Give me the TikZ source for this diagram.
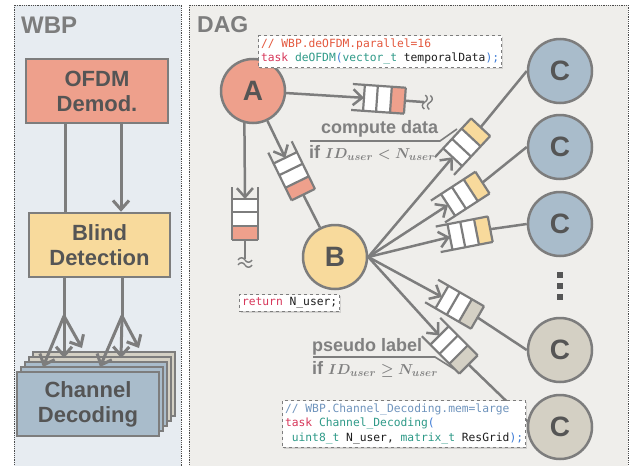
\documentclass[tikz,border=0pt]{standalone}
\usepackage{fontspec}
\setmainfont{Liberation Sans}
\newfontfamily\codefont{DejaVu Sans Mono}
\usetikzlibrary{arrows.meta,shadows,calc}
\definecolor{wbpbg}{HTML}{E7ECF1}
\definecolor{dagbg}{HTML}{EFEEEB}
\definecolor{salm}{HTML}{EEA08C}
\definecolor{yel}{HTML}{F8DA9C}
\definecolor{blu}{HTML}{A9BCCB}
\definecolor{bei}{HTML}{D4D0C4}
\definecolor{lg}{HTML}{7D7D7D}
\definecolor{dk}{HTML}{555555}
\definecolor{lblc}{HTML}{808080}
\definecolor{cmA}{HTML}{E4583E}
\definecolor{cmB}{HTML}{6F94BD}
\definecolor{kw}{HTML}{D7375A}
\definecolor{ty}{HTML}{2E9A88}
\definecolor{pa}{HTML}{3D7BD6}
\definecolor{bk}{HTML}{1E1E1E}
\newcommand{\condm}[1]{{\fontsize{15.5}{16}\selectfont\boldmath$#1$}}
\tikzset{
  pics/queue/.style={code={
    \fill[white] (12,-13) rectangle (39,13);
    \fill[#1] (39,-13) rectangle (53,13);
    \draw[draw=lg,line width=2.2pt] (0,-13) -- (53,-13) (0,13) -- (53,13)
      (12,-13) -- (12,13) (25,-13) -- (25,13) (39,-13) -- (39,13) (53,-13) -- (53,13);
    \coordinate (-in) at (12,0);
    \coordinate (-out) at (53,0);
    \coordinate (-tail) at (72,0);
  }},
  pics/queue/.default=white,
  pics/squig/.style={code={
    \draw[draw=lg,line width=1.4pt] (1,-7) .. controls (4,-5) and (4,-2) .. (1,0) .. controls (-2,2) and (-2,5) .. (1,7);
    \draw[draw=lg,line width=1.4pt] (6,-7) .. controls (9,-5) and (9,-2) .. (6,0) .. controls (3,2) and (3,5) .. (6,7);
  }}
}
\begin{document}
\begin{tikzpicture}[x=1pt,y=-1pt,
  conn/.style={draw=lg,line width=2.5pt},
  wline/.style={draw=lg,line width=3pt},
  arr/.style={-{Straight Barb[length=9pt,width=16pt]}},
  circ/.style={circle,draw=lg,line width=2.5pt,minimum size=64pt,inner sep=0pt,
    font=\fontsize{28}{28}\selectfont\bfseries,text=dk},
  wbox/.style={rectangle,draw=lg,line width=2.5pt,minimum width=142pt,minimum height=64pt,
    inner sep=0pt,align=center,font=\fontsize{22}{25}\selectfont\bfseries,text=dk},
  codebox/.style={draw=lg,dashed,fill=white,line width=1pt,inner xsep=2.5pt,inner ysep=3pt,
    anchor=north west,align=left,font=\codefont\fontsize{11.3}{14.8}\selectfont,
    drop shadow={shadow xshift=1.5pt,shadow yshift=-1.5pt,opacity=0.25}},
  lbl/.style={text=lblc,font=\fontsize{18}{18}\selectfont\bfseries,anchor=base west,inner sep=0pt},
  lead/.style={draw=lg,line width=1.6pt},
  ttl/.style={text=lg,font=\fontsize{24}{24}\selectfont\bfseries,anchor=base west,inner sep=0pt},
]
\useasboundingbox (0,0) rectangle (635,466);
% panels
\draw[fill=wbpbg,draw=black!70,densely dotted,line width=0.8pt] (14,5) rectangle (181,468);
\draw[fill=dagbg,draw=black!70,densely dotted,line width=0.8pt] (189,5) rectangle (628,468);
\node[ttl] (wbpt) at (21,33) {WBP};
\node[ttl,font=\fontsize{23}{23}\selectfont\bfseries] (dagt) at (197,32) {DAG};

% ---------------- WBP column
\node[wbox,fill=salm] (ofdm) at (97,91) {OFDM\\Demod.};
\node[wbox,fill=yel,minimum width=141pt] (blind) at (99.5,245) {Blind\\Detection};
\foreach \k/\c in {4/bei,3/bei,2/blu,1/blu}
  \draw[draw=lg,line width=2.2pt,fill=\c] (17+4*\k,372-5*\k) rectangle ++(142,64);
\node[wbox,fill=blu] (chan) at (88,404) {Channel\\Decoding};

\draw[wline] ([xshift=-32pt]ofdm.south) -- ([xshift=-32pt]ofdm.south |- blind.north);
\draw[wline,arr] ([xshift=24pt]ofdm.south) -- ([xshift=24pt]ofdm.south |- blind.north);

\coordinate (s1) at (64,316);
\coordinate (s2) at (122,316);
\coordinate (t11) at (43,367);
\coordinate (t12) at (64,358);
\coordinate (t13) at (82,348);
\coordinate (t21) at (100,367);
\coordinate (t22) at (121,358);
\coordinate (t23) at (139,348);
\draw[wline] ([xshift=-35.5pt]blind.south) -- (s1);
\draw[wline] ([xshift=22.5pt]blind.south) -- (s2);
\foreach \s/\t in {s1/t11,s1/t12,s1/t13,s2/t21,s2/t22,s2/t23}
  \draw[wline,arr] (\s) -- (\t);

% ---------------- DAG
\node[circ,fill=salm] (A) at (253,91) {A};
\node[circ,fill=yel] (B) at (335,257) {B};
\node[circ,fill=blu] (C1) at (560,71) {C};
\node[circ,fill=blu] (C2) at (560,147) {C};
\node[circ,fill=blu] (C3) at (560,224) {C};
\node[circ,fill=bei] (C4) at (560,350) {C};
\node[circ,fill=bei] (C5) at (560,427) {C};
\foreach \yy in {275,286,297}
  \fill[dk] (557,\yy-3) rectangle (563,\yy+3);

% queues
\pic[rotate=-4] (q1) at (352,97) {queue=salm};
\pic[rotate=-90] (q2) at (245,187) {queue=salm};
\pic[rotate=-64] (q3) at (280,147) {queue=salm};
\pic[rotate=47] (q4) at (444.5,166) {queue=yel};
\pic[rotate=33] (q5) at (438,211.5) {queue=yel};
\pic[rotate=11] (q6) at (438.2,239.3) {queue=yel};
\pic[rotate=-30] (q7) at (431.6,291) {queue=bei};
\pic[rotate=-45] (q8) at (431,327) {queue=bei};

% connectors from A
\draw[conn,arr] (A) -- (q1-in);
\draw[conn] (q1-out) -- (q1-tail);
\pic[rotate=-4] at (q1-tail) {squig};
\draw[conn,arr] (A.-105) -- (q2-in);
\draw[conn] (q2-out) -- (q2-tail);
\pic[rotate=-90] at (q2-tail) {squig};
\draw[conn,arr] (A) -- (q3-in);
\draw[conn] (q3-out) -- (B);

% connectors from B
\foreach \q in {q4,q5,q6,q7,q8}
  \draw[conn,arr] (B.east) -- (\q-in);
\draw[conn] (q4-out) -- (C1.west);
\draw[conn] (q5-out) -- (C2.west);
\draw[conn] (q6-out) -- (C3.west);
\draw[conn] (q7-out) -- (C4.west);
\draw[conn] (q8-out) -- (C5.170);

% labels and leaders
\node[lbl] (cdl) at (321,133) {compute data};
\node[lbl] (cdc) at (309,158) {if \condm{ID_{user} < N_{user}}};
\coordinate (cd1) at (310,141);
\coordinate (cd2) at (440,141);
\coordinate (cd3) at (457,129);
\draw[lead] (cd1) -- (cd2) -- (cd3);
\node[lbl] (psl) at (312,351) {pseudo label};
\node[lbl] (psc) at (312,374) {if \condm{ID_{user} \geq N_{user}}};
\coordinate (pl1) at (313,357);
\coordinate (pl2) at (435,357);
\coordinate (pl3) at (454,369);
\draw[lead] (pl1) -- (pl2) -- (pl3);

% code boxes
\node[codebox] (code1) at (258,35) {%
  {\color{cmA}// WBP.deOFDM.parallel=16}\\
  {\color{kw}task} {\color{ty}deOFDM}{\color{pa}(}{\color{ty}vector\_t} {\color{bk}temporalData}{\color{pa});}};
\node[codebox] (code2) at (239,294) {{\color{kw}return} {\color{bk}N\_user;}};
\node[codebox] (code3) at (282,400) {%
  {\color{cmB}// WBP.Channel\_Decoding.mem=large}\\
  {\color{kw}task} {\color{ty}Channel\_Decoding}{\color{pa}(}\\
  \phantom{x}{\color{ty}uint8\_t} {\color{bk}N\_user,} {\color{ty}matrix\_t} {\color{bk}ResGrid}{\color{pa});}};
\end{tikzpicture}
\end{document}
